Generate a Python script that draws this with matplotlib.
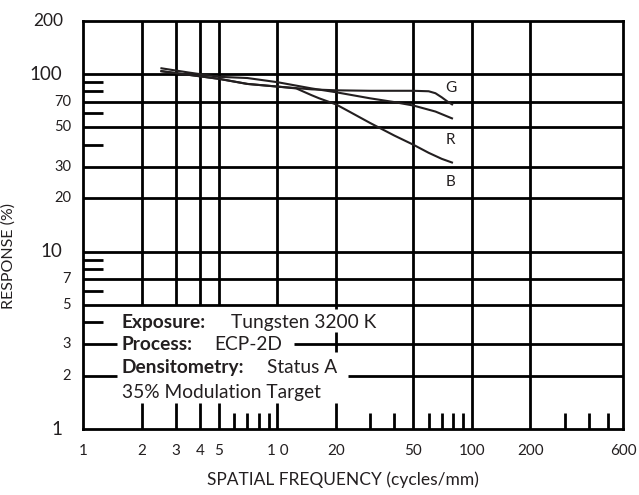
import matplotlib
matplotlib.use("Agg")
import matplotlib.pyplot as plt

plt.rcParams["font.family"] = ["Lato", "DejaVu Sans"]

# MTF curves
g_x = [2.5, 3.5, 5, 7, 10, 15, 20, 30, 40, 50, 60, 65, 70, 75, 80]
g_y = [104, 99, 94, 88, 85, 82, 81, 80.5, 80.5, 80.5, 80, 78, 74, 70, 67]
r_x = [2.5, 3.5, 5, 7, 10, 15, 20, 30, 40, 50, 65, 80]
r_y = [108, 102, 96.5, 95, 90, 83, 79, 73, 69.5, 66.5, 61.5, 56]
b_x = [2.5, 3.5, 5, 7, 10, 12.5, 15, 16.4, 20, 23.4, 30, 40, 50, 60, 70, 80]
b_y = [104, 99, 94, 88, 85, 83, 76, 73, 67.5, 61.5, 53, 45, 40, 36, 33.3, 31.6]
curve_names = ["G", "R", "B"]
curve_label_y = [84, 42.5, 24.5]

x_ticks = [1, 2, 3, 4, 5, 10, 20, 50, 100, 200, 600]
x_tick_labels = ["1", "2", "3", "4", "5", "1 0", "20", "50", "100", "200", "600"]
y_major = [1, 10, 100]
y_minor = [2, 3, 5, 7, 20, 30, 50, 70]
y_top = 200

# grid layout of the printed chart
full_v = [50, 100, 200]
broken_v = [2, 3, 4, 5, 10, 20]
minor_v = [6, 7, 8, 9, 30, 40, 60, 70, 80, 90, 300, 400, 500]
full_h = [100, 70, 50, 30, 20, 10, 7, 5]
short_h = [90, 80, 60, 40, 9, 8, 6, 4]

fig = plt.figure(figsize=(6.39, 4.95), dpi=100)
ax = fig.add_axes([0.130, 0.1333, 0.845, 0.825])
ax.set_xscale("log")
ax.set_yscale("log")
ax.set_xlim(1, 600)
ax.set_ylim(1, 200)

lw = 2.0
col = "black"
txt = "#231f20"
ax.vlines(full_v, 1, 200, color=col, lw=lw)
ax.vlines([v for v in broken_v if v != 20], 5, 200, color=col, lw=lw)
ax.vlines(20, 4.75, 200, color=col, lw=lw)
ax.vlines(20, 2.7, 3.5, color=col, lw=lw)
ax.vlines(broken_v, 1, 1.4, color=col, lw=lw)
ax.vlines(minor_v, 1, 1.23, color=col, lw=lw)
ax.hlines(full_h, 1, 600, color=col, lw=lw)
ax.hlines(short_h, 1, 1.27, color=col, lw=lw)
ax.hlines(3, 1, 1.5, color=col, lw=lw)
ax.hlines(3, 12.2, 600, color=col, lw=lw)
ax.hlines(2, 1, 1.49, color=col, lw=lw)
ax.hlines(2, 23.2, 600, color=col, lw=lw)

for s in ax.spines.values():
    s.set_linewidth(lw)

for cx, cy in [(g_x, g_y), (r_x, r_y), (b_x, b_y)]:
    ax.plot(cx, cy, color=txt, lw=1.5, solid_joinstyle="round",
            solid_capstyle="butt", zorder=3)
for name, ly in zip(curve_names, curve_label_y):
    ax.text(78, ly, name, fontsize=11, ha="center", va="center", color=txt)

# ticks
ax.set_xticks(x_ticks)
ax.set_xticklabels(x_tick_labels, fontsize=11, color=txt)
ax.xaxis.set_minor_locator(matplotlib.ticker.NullLocator())
ax.yaxis.set_minor_locator(matplotlib.ticker.NullLocator())
ax.set_yticks([])
ax.tick_params(axis="x", length=0, pad=11)

ytr = ax.get_yaxis_transform()
for v in y_major:
    ax.text(-0.038, v, str(v), transform=ytr, ha="right", va="center",
            fontsize=13.5, color=txt)
ax.text(-0.036, y_top, str(y_top), transform=ytr, ha="right", va="center",
        fontsize=12.5, color=txt)
for v in y_minor:
    ax.text(-0.022, v, str(v), transform=ytr, ha="right", va="center",
            fontsize=10.5, color=txt)

ax.set_xlabel("SPATIAL FREQUENCY (cycles/mm)", fontsize=12.5, color=txt)
ax.xaxis.set_label_coords(0.481, -0.104)
ax.set_ylabel("RESPONSE (%)", fontsize=11.5, color=txt)
ax.yaxis.set_label_coords(-0.124, 0.424)

# process notes
tx = 1.585
fs = 13.8
ax.text(tx, 4.0, "Exposure:", fontsize=fs, fontweight="bold", va="center",
        color=txt)
ax.text(5.74, 4.0, "Tungsten 3200 K", fontsize=fs, va="center", color=txt)
ax.text(tx, 2.98, "Process:", fontsize=fs, fontweight="bold", va="center",
        color=txt)
ax.text(4.75, 2.98, "ECP-2D", fontsize=fs, va="center", color=txt)
ax.text(tx, 2.21, "Densitometry:", fontsize=fs, fontweight="bold",
        va="center", color=txt)
ax.text(8.89, 2.21, "Status A", fontsize=fs, va="center", color=txt)
ax.text(tx, 1.6, "35% Modulation Target", fontsize=fs, va="center",
        color=txt)

fig.savefig("out.png", dpi=100)
